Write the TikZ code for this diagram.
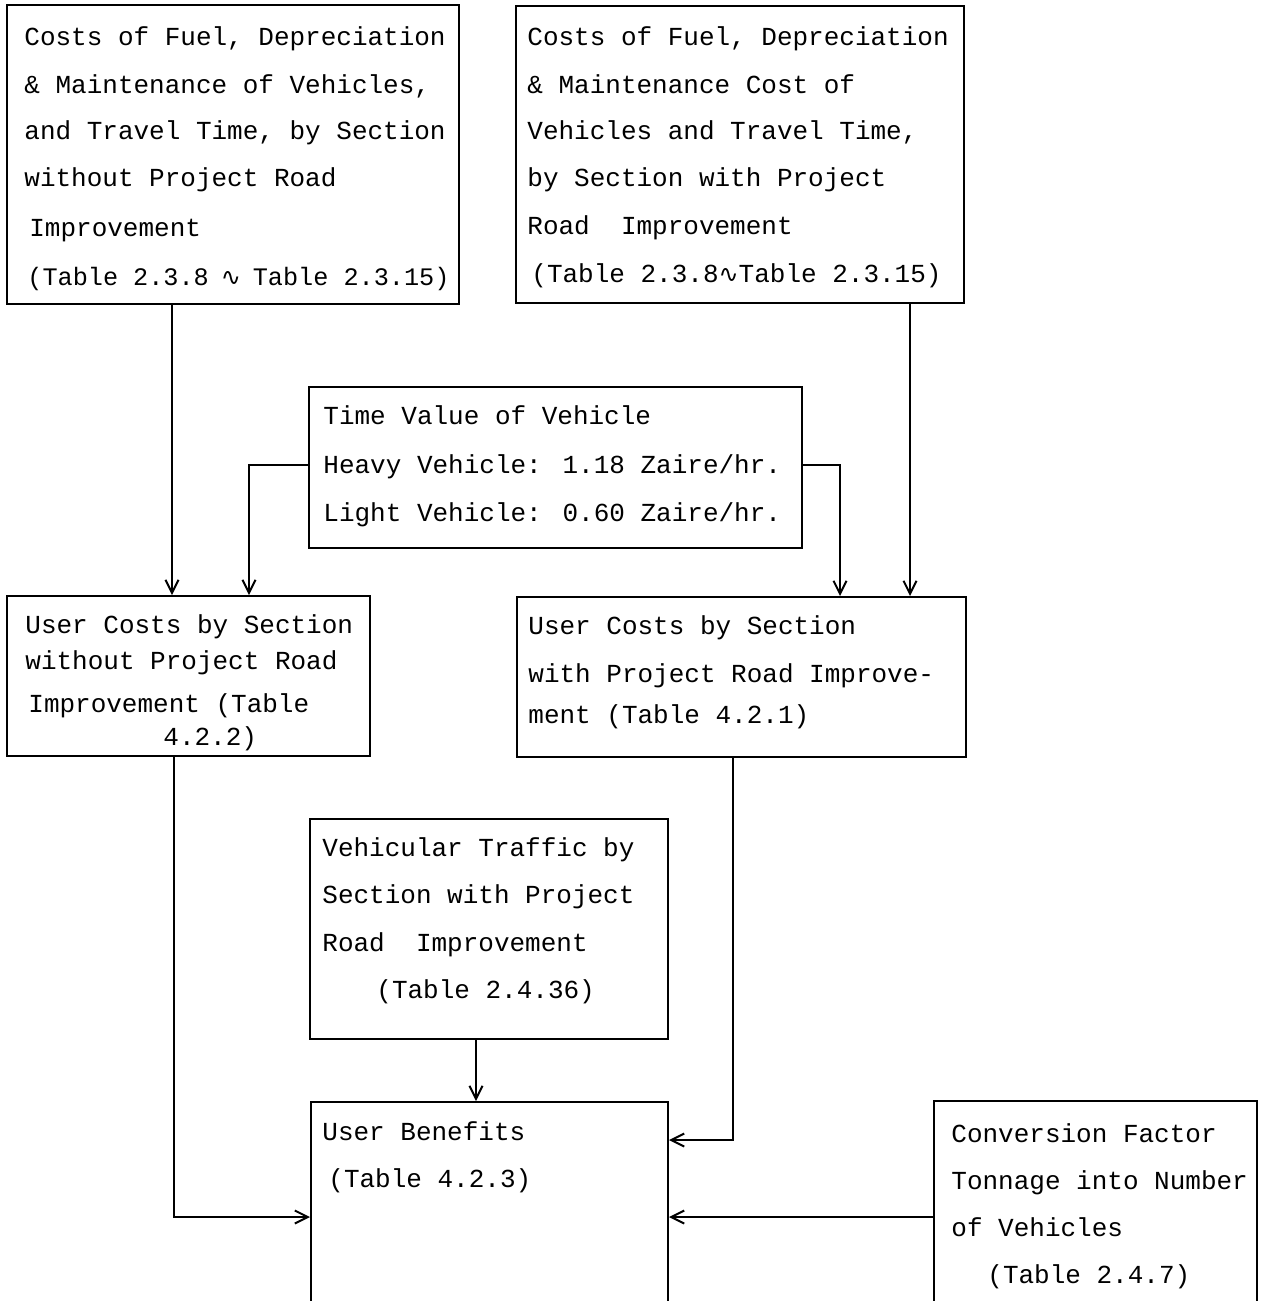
\documentclass[tikz,border=0pt]{standalone}
\usepackage{fontspec}
\usetikzlibrary{arrows.meta,fit}
\newfontfamily\twfont{Liberation Mono}
\newfontfamily\djvfont{DejaVu Sans}
\newcommand{\sinewave}{{\djvfont\fontsize{12}{14}\selectfont ∿}}
\begin{document}
\begin{tikzpicture}[x=0.5pt,y=-0.5pt,
  box/.style={draw, line width=1pt, inner sep=0pt},
  txt/.style={anchor=base west, inner sep=0pt, font=\twfont\fontsize{13}{15}\selectfont},
  arr/.style={line width=1pt, -{Straight Barb[length=6.5pt,width=6.5pt]}}]
\clip (0,0) rectangle (1260,1301);
\fill[white] (0,0) rectangle (1260,1301);
% boxes
\node[box, fit={(7,5) (459,304)}] (A) {};
\node[box, fit={(516,6) (964,303)}] (B) {};
\node[box, fit={(309,387) (802,548)}] (T) {};
\node[box, fit={(7,596) (370,756)}] (UL) {};
\node[box, fit={(517,597) (966,757)}] (UR) {};
\node[box, fit={(310,819) (668,1039)}] (V) {};
\node[box, fit={(311,1102) (668,1330)}] (UB) {};
\node[box, fit={(934,1101) (1257,1330)}] (CF) {};
% texts A
\node[txt] (a1) at (24,45) {Costs of Fuel, Depreciation};
\node[txt] (a2) at (24,93) {\& Maintenance of Vehicles,};
\node[txt] (a3) at (24,139) {and Travel Time, by Section};
\node[txt] (a4) at (24,186) {without Project Road};
\node[txt] (a5) at (29,236) {Improvement};
\node[txt, font=\twfont\fontsize{12.6}{15}\selectfont] (a6) at (27,285) {(Table 2.3.8\makebox[22pt]{\sinewave}Table 2.3.15)};
% texts B
\node[txt] (b1) at (527,45) {Costs of Fuel, Depreciation};
\node[txt] (b2) at (527,93) {\& Maintenance Cost of};
\node[txt] (b3) at (527,139) {Vehicles and Travel Time,};
\node[txt] (b4) at (527,186) {by Section with Project};
\node[txt] (b5) at (527,234) {Road\ \ Improvement};
\node[txt] (b6) at (531,282) {(Table 2.3.8\sinewave Table 2.3.15)};
% texts T
\node[txt] (t1) at (323,424) {Time Value of Vehicle};
\node[txt] (t2) at (323,473) {Heavy Vehicle: 1.18 Zaire/hr.};
\node[txt] (t3) at (323,521) {Light Vehicle: 0.60 Zaire/hr.};
% texts UL
\node[txt] (ul1) at (25,633) {User Costs by Section};
\node[txt] (ul2) at (25,669) {without Project Road};
\node[txt] (ul3) at (28,712) {Improvement (Table};
\node[txt] (ul4) at (163,745) {4.2.2)};
% texts UR
\node[txt] (ur1) at (528,634) {User Costs by Section};
\node[txt] (ur2) at (528,682) {with Project Road Improve-};
\node[txt] (ur3) at (528,723) {ment (Table 4.2.1)};
% texts V
\node[txt] (v1) at (322,856) {Vehicular Traffic by};
\node[txt] (v2) at (322,903) {Section with Project};
\node[txt] (v3) at (322,951) {Road\ \ Improvement};
\node[txt] (v4) at (376,998) {(Table 2.4.36)};
% texts UB
\node[txt] (ub1) at (322,1140) {User Benefits};
\node[txt] (ub2) at (328,1187) {(Table 4.2.3)};
% texts CF
\node[txt] (cf1) at (951,1142) {Conversion Factor};
\node[txt] (cf2) at (951,1189) {Tonnage into Number};
\node[txt] (cf3) at (951,1236) {of Vehicles};
\node[txt] (cf4) at (987,1283) {(Table 2.4.7)};
% guide coordinates
\coordinate (xa) at (172,0);
\coordinate (xb) at (910,0);
\coordinate (xt1) at (249,0);
\coordinate (xt2) at (840,0);
\coordinate (xc) at (174,0);
\coordinate (xd) at (733,0);
\coordinate (xe) at (476,0);
\coordinate (yt) at (0,465);
\coordinate (yb) at (0,1217);
\coordinate (yc) at (0,1140);
% connectors
\draw[arr] (A.south -| xa) -- (UL.north -| xa);
\draw[arr] (B.south -| xb) -- (UR.north -| xb);
\draw[arr] (T.west |- yt) -| (UL.north -| xt1);
\draw[arr] (T.east |- yt) -| (UR.north -| xt2);
\draw[arr] (UL.south -| xc) |- (UB.west |- yb);
\draw[arr] (UR.south -| xd) |- (UB.east |- yc);
\draw[arr] (V.south -| xe) -- (UB.north -| xe);
\draw[arr] (CF.west |- yb) -- (UB.east |- yb);
\end{tikzpicture}
\end{document}
